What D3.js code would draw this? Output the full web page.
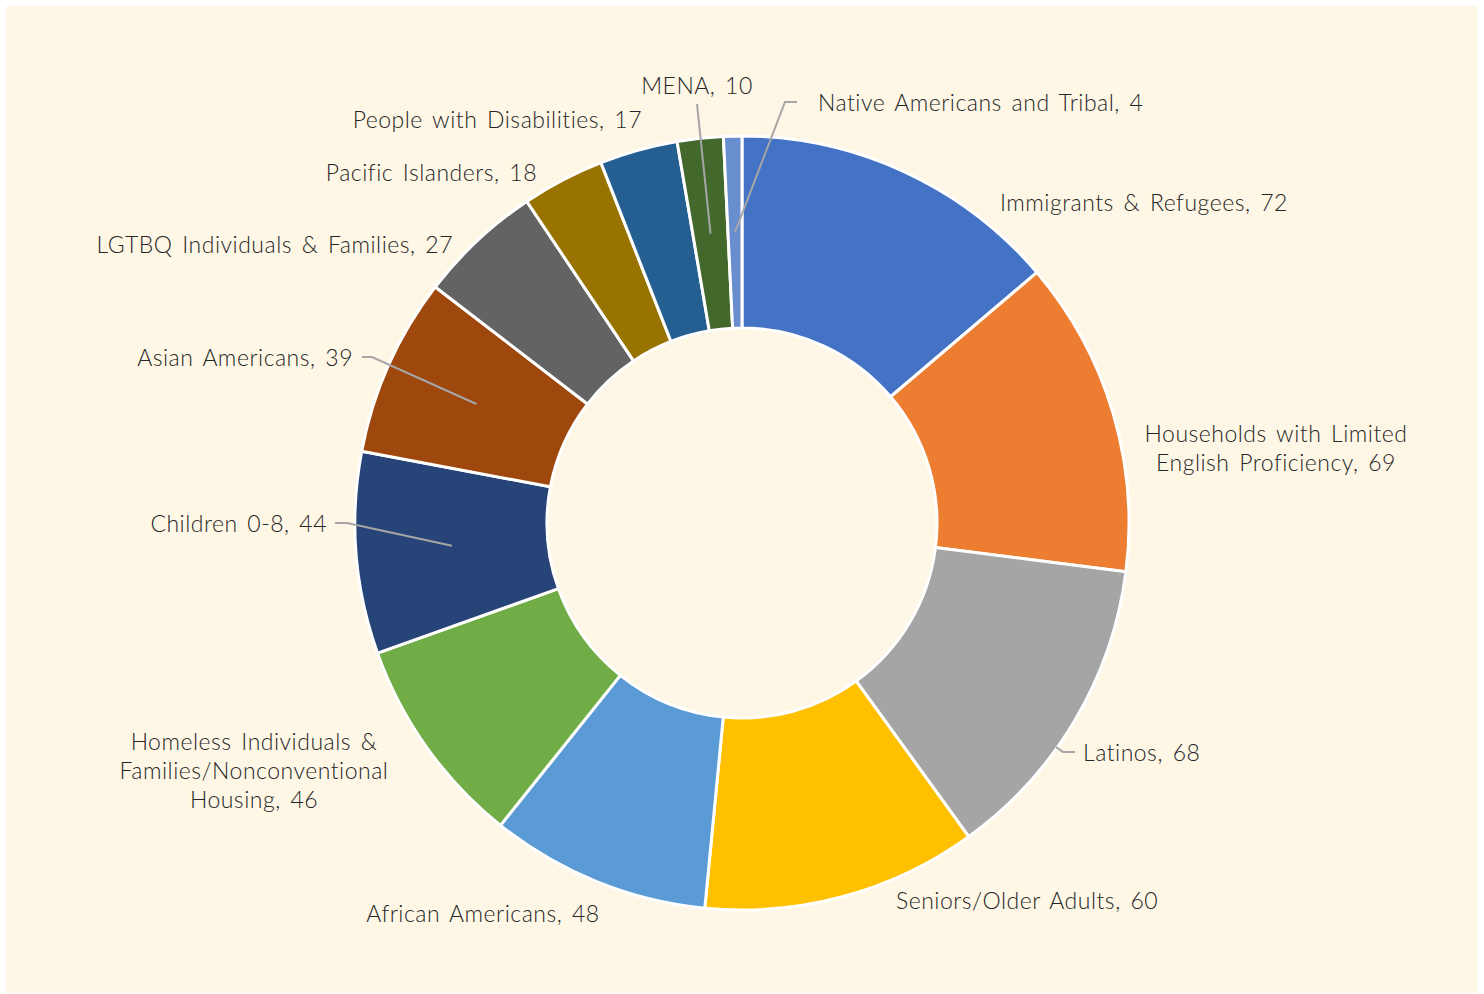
<!DOCTYPE html>
<html>
<head>
<meta charset="utf-8">
<script src="https://cdn.jsdelivr.net/npm/d3@7"></script>
<style>
  html, body { margin: 0; padding: 0; background: #ffffff; }
  svg { display: block; }
  text { font-family: "Lato", "Noto Sans", sans-serif; font-weight: 300; fill: #262626; }
</style>
</head>
<body>
<svg id="chart" width="1484" height="994"></svg>
<script>
// ---- data ----
const categories = [
  "Immigrants & Refugees",
  "Households with Limited English Proficiency",
  "Latinos",
  "Seniors/Older Adults",
  "African Americans",
  "Homeless Individuals & Families/Nonconventional Housing",
  "Children 0-8",
  "Asian Americans",
  "LGTBQ Individuals & Families",
  "Pacific Islanders",
  "People with Disabilities",
  "MENA",
  "Native Americans and Tribal"
];
const values = [72, 69, 68, 60, 48, 46, 44, 39, 27, 18, 17, 10, 4];
const colors = ["#4472C4", "#ED7D31", "#A5A5A5", "#FFC000", "#5B9BD5", "#70AD47",
                "#264478", "#9E480E", "#636363", "#997300", "#255E91", "#43682B", "#698ED0"];

// label text lines (as drawn in the chart)
const labelLines = [
  ["Immigrants & Refugees, 72"],
  ["Households with Limited", "English Proficiency, 69"],
  ["Latinos, 68"],
  ["Seniors/Older Adults, 60"],
  ["African Americans, 48"],
  ["Homeless Individuals &", "Families/Nonconventional", "Housing, 46"],
  ["Children 0-8, 44"],
  ["Asian Americans, 39"],
  ["LGTBQ Individuals & Families, 27"],
  ["Pacific Islanders, 18"],
  ["People with Disabilities, 17"],
  ["MENA, 10"],
  ["Native Americans and Tribal, 4"]
];

// ---- layout (separate from data) ----
const W = 1484, H = 994;
const cx = 742, cy = 523, rOuter = 387, rInner = 195;
const fontSize = 23, lineH = 29;
// label anchor positions: x, first baseline y, text-anchor
const labelLayout = [
  {x: 1000, y: 211, a: "start"},
  {x: 1276, y: 442, a: "middle"},
  {x: 1083, y: 761, a: "start"},
  {x: 896,  y: 909, a: "start"},
  {x: 483,  y: 922, a: "middle"},
  {x: 254,  y: 750, a: "middle"},
  {x: 327,  y: 532, a: "end"},
  {x: 353,  y: 366, a: "end"},
  {x: 453,  y: 253, a: "end"},
  {x: 537,  y: 181, a: "end"},
  {x: 642,  y: 128, a: "end"},
  {x: 697,  y: 94,  a: "middle"},
  {x: 818,  y: 111, a: "start"}
];
// leader lines: label-side points, ending at slice centroid ("c") or outer edge ("o")
const leaders = [
  {i: 2,  pts: [[1075, 752], [1063, 752]], end: "o"},
  {i: 6,  pts: [[335, 523], [347, 523]], end: "c"},
  {i: 7,  pts: [[362, 357], [372, 357]], end: "c"},
  {i: 11, pts: [[697, 104]], end: "c"},
  {i: 12, pts: [[797, 102], [785, 102]], end: "c"}
];

const svg = d3.select("#chart");
svg.append("rect").attr("x", 6).attr("y", 6).attr("width", 1471).attr("height", 987)
  .attr("fill", "#FEF7E6");

const pie = d3.pie().value(d => d).sort(null);
const arcs = pie(values);
const arc = d3.arc().innerRadius(rInner).outerRadius(rOuter);
const g = svg.append("g").attr("transform", `translate(${cx},${cy})`);

g.selectAll("path.slice").data(arcs).join("path")
  .attr("class", "slice")
  .attr("d", arc)
  .attr("fill", (d, i) => colors[i])
  .attr("stroke", "#ffffff")
  .attr("stroke-width", 3)
  .attr("stroke-linejoin", "round");

// leader lines
const lineGen = d3.line();
leaders.forEach(L => {
  const d = arcs[L.i];
  let endPt;
  if (L.end === "c") {
    const c = arc.centroid(d);
    endPt = [c[0] + cx, c[1] + cy];
  } else {
    const last = L.pts[L.pts.length - 1];
    let ang = Math.atan2(last[0] - cx, -(last[1] - cy));
    if (ang < 0) ang += 2 * Math.PI;
    ang = Math.max(d.startAngle, Math.min(d.endAngle, ang));
    endPt = [cx + (rOuter - 1) * Math.sin(ang), cy - (rOuter - 1) * Math.cos(ang)];
  }
  svg.append("path")
    .attr("d", lineGen([...L.pts, endPt]))
    .attr("fill", "none")
    .attr("stroke", "#A6A6A6")
    .attr("stroke-width", 2);
});

// labels
labelLines.forEach((lines, i) => {
  const L = labelLayout[i];
  const t = svg.append("text")
    .attr("x", L.x).attr("y", L.y)
    .attr("text-anchor", L.a)
    .attr("font-size", fontSize)
    .style("letter-spacing", "0.5px")
    .style("word-spacing", "3px");
  lines.forEach((ln, k) => {
    t.append("tspan").attr("x", L.x).attr("y", L.y + k * lineH).text(ln);
  });
});
</script>
</body>
</html>
